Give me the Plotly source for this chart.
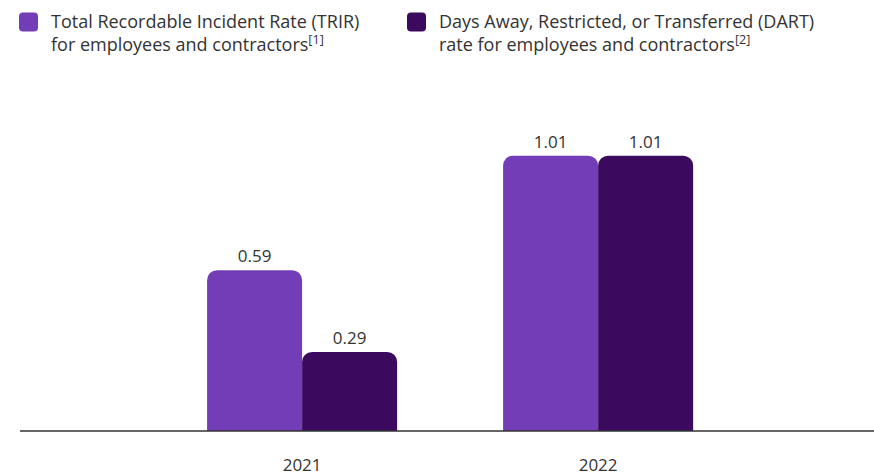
import plotly.graph_objects as go

years = ["2021", "2022"]
trir = [0.59, 1.01]
dart = [0.29, 1.01]
trir_name = "Total Recordable Incident Rate (TRIR)<br>for employees and contractors<sup>[1]</sup>"
dart_name = "Days Away, Restricted, or Transferred (DART)<br>rate for employees and contractors<sup>[2]</sup>"
colors = ["#733DB7", "#3B0A5E"]

W, H = 874, 476
ML, MR, MT, MB = 20, 0, 100, 43
PW = W - ML - MR
PH = H - MT - MB

fig = go.Figure()
for vals, name, col in [(trir, trir_name, colors[0]), (dart, dart_name, colors[1])]:
    fig.add_trace(go.Bar(
        x=years, y=vals, name=name,
        marker=dict(color=col, cornerradius=10, line=dict(width=0)),
        text=[f"{v:.2f}" for v in vals], textposition="outside",
        textfont=dict(family="Open Sans", size=17, color="#333333"),
        cliponaxis=False, showlegend=False,
    ))

def px2x(p):
    return (p - ML) / PW

def py2y(p):
    return (H - MB - p) / PH

def rounded_square(x0, y0, size, r):
    x1, y1 = x0 + size, y0 + size
    X = px2x
    Y = py2y
    path = (f"M{X(x0+r)},{Y(y0)} L{X(x1-r)},{Y(y0)} Q{X(x1)},{Y(y0)} {X(x1)},{Y(y0+r)} "
            f"L{X(x1)},{Y(y1-r)} Q{X(x1)},{Y(y1)} {X(x1-r)},{Y(y1)} "
            f"L{X(x0+r)},{Y(y1)} Q{X(x0)},{Y(y1)} {X(x0)},{Y(y1-r)} "
            f"L{X(x0)},{Y(y0+r)} Q{X(x0)},{Y(y0)} {X(x0+r)},{Y(y0)} Z")
    return path

legend_items = [(19, 49, trir_name, colors[0]), (407, 437, dart_name, colors[1])]
for sq_x, tx, name, col in legend_items:
    fig.add_shape(type="path", xref="paper", yref="paper",
                  path=rounded_square(sq_x, 12, 19, 4),
                  fillcolor=col, line=dict(width=0))
    fig.add_annotation(xref="paper", yref="paper", x=px2x(tx), y=py2y(6),
                       xanchor="left", yanchor="top", align="left", showarrow=False,
                       text=name, font=dict(family="Open Sans", size=18, color="#333333"))

# baseline across the full plot width
fig.add_shape(type="line", xref="paper", yref="paper", x0=0, x1=1, y0=0, y1=0,
              line=dict(color="#333333", width=1.5), layer="above")

fig.update_layout(
    width=W, height=H,
    margin=dict(l=ML, r=MR, t=MT, b=MB),
    barmode="group", bargap=0.358, bargroupgap=0,
    plot_bgcolor="white", paper_bgcolor="white",
    font=dict(family="Open Sans", size=17, color="#333333"),
    xaxis=dict(type="category", range=[-0.953, 1.932], showline=False,
               showgrid=False, zeroline=False,
               ticks="outside", ticklen=19, tickcolor="rgba(0,0,0,0)",
               tickfont=dict(family="Open Sans", size=17, color="#333333")),
    yaxis=dict(range=[0, PH / (277 / 1.01)], visible=False, showgrid=False),
)

fig.write_html("out.html", config={"displayModeBar": False},
               post_script=("document.documentElement.style.margin='0px';"
                            "document.documentElement.style.overflow='hidden';"
                            "document.body.style.margin='0px';"
                            "document.body.style.overflow='hidden';"))
